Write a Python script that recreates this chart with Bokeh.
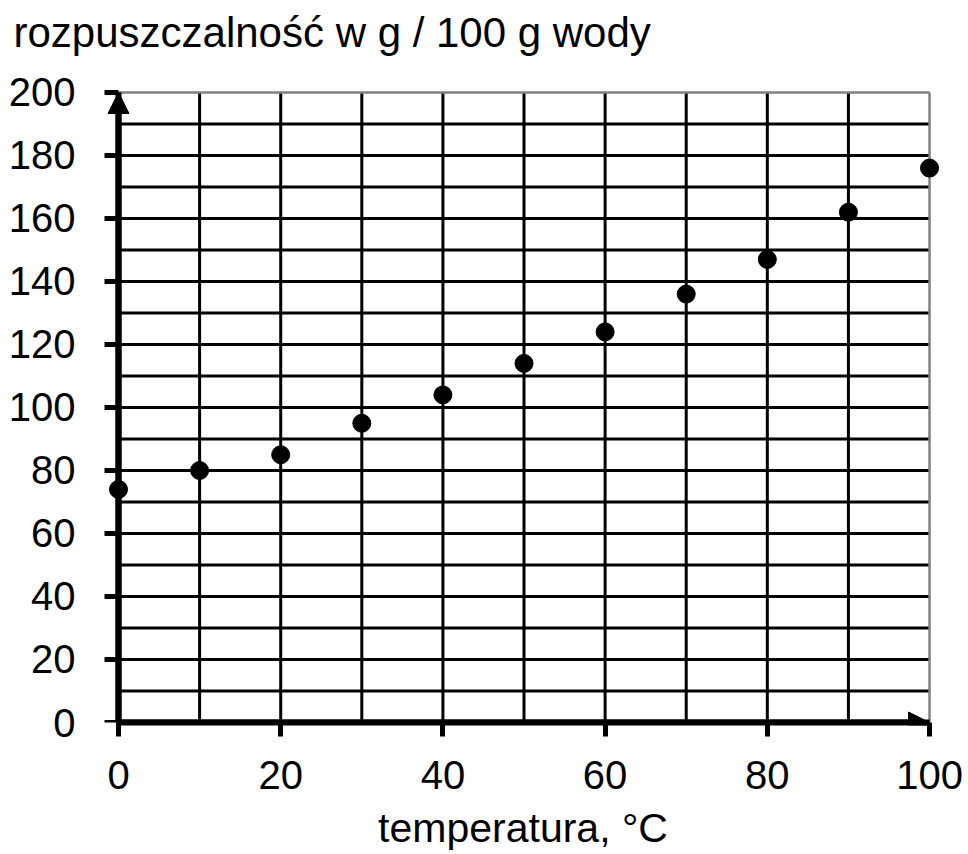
from bokeh.plotting import figure
from bokeh.models import FixedTicker, Arrow, NormalHead, Range1d, ColumnDataSource, LinearAxis
from bokeh.embed import file_html
from bokeh.resources import INLINE

temperature = [0, 10, 20, 30, 40, 50, 60, 70, 80, 90, 100]
solubility = [74, 80, 85, 95, 104, 114, 124, 136, 147, 162, 176]
x_ticks = [0, 20, 40, 60, 80, 100]
y_ticks = [0, 20, 40, 60, 80, 100, 120, 140, 160, 180, 200]
x_grid = [10, 20, 30, 40, 50, 60, 70, 80, 90]
y_grid = [10, 20, 30, 40, 50, 60, 70, 80, 90, 100, 110, 120, 130, 140, 150, 160, 170, 180, 190]
title_text = "rozpuszczalność w g / 100 g wody"
x_label = "temperatura, °C"

FONT = "Liberation Sans"
X0, X1 = x_ticks[0], x_ticks[-1]
Y0, Y1 = y_ticks[0], y_ticks[-1]

p = figure(width=968, height=854, output_backend="svg", toolbar_location=None,
           x_range=Range1d(-1.85, 101.6), y_range=Range1d(0, 209.52),
           min_border_left=103, min_border_right=26, min_border_top=62, min_border_bottom=132,
           title=title_text)

p.title.text_font = FONT
p.title.text_font_size = "42px"
p.title.text_font_style = "normal"
p.title.text_color = "black"
p.title.align = "left"
p.title.offset = -90
p.title.standoff = 13

p.outline_line_color = None
p.background_fill_color = "white"
p.border_fill_color = "white"
p.xgrid.visible = False
p.ygrid.visible = False

# grid lines
p.segment(x0=x_grid, y0=[Y0] * len(x_grid), x1=x_grid, y1=[Y1] * len(x_grid),
          line_color="black", line_width=3)
p.segment(x0=[X0] * len(y_grid), y0=y_grid, x1=[X1] * len(y_grid), y1=y_grid,
          line_color="black", line_width=3)
# grey border at the top and right
p.segment(x0=[X0, X1], y0=[Y1, Y0], x1=[X1, X1], y1=[Y1, Y1],
          line_color="#808080", line_width=2.5)

# x axis (at the frame bottom, y = 0)
p.xaxis.ticker = FixedTicker(ticks=x_ticks)
p.xaxis.bounds = (X0, X1)
p.xaxis.axis_line_color = "black"
p.xaxis.axis_line_width = 6
p.xaxis.major_tick_line_color = "black"
p.xaxis.major_tick_line_width = 5
p.xaxis.major_tick_in = 0
p.xaxis.major_tick_out = 14
p.xaxis.minor_tick_line_color = None
p.xaxis.major_label_text_font = FONT
p.xaxis.major_label_text_font_size = "40px"
p.xaxis.major_label_text_color = "black"
p.xaxis.major_label_standoff = 24
p.xaxis.axis_label = x_label
p.xaxis.axis_label_text_font = FONT
p.xaxis.axis_label_text_font_size = "41px"
p.xaxis.axis_label_text_font_style = "normal"
p.xaxis.axis_label_text_color = "black"
p.xaxis.axis_label_standoff = 13

# y axis labels (frame edge)
p.yaxis.ticker = FixedTicker(ticks=y_ticks)
p.yaxis.axis_line_color = None
p.yaxis.major_tick_line_color = None
p.yaxis.minor_tick_line_color = None
p.yaxis.major_tick_in = 0
p.yaxis.major_tick_out = 0
p.yaxis.major_label_text_font = FONT
p.yaxis.major_label_text_font_size = "40px"
p.yaxis.major_label_text_color = "black"
p.yaxis.major_label_standoff = 28

# y axis line and ticks at x = 0
yline = LinearAxis(ticker=FixedTicker(ticks=y_ticks), fixed_location=X0, bounds=(Y0, Y1),
                   axis_line_color="black", axis_line_width=6,
                   major_tick_line_color="black", major_tick_line_width=5,
                   major_tick_in=14, major_tick_out=0, minor_tick_line_color=None,
                   major_label_text_font_size="1px", major_label_text_color=None,
                   major_label_standoff=0)
p.add_layout(yline, "right")

# axis arrows
p.add_layout(Arrow(x_start=X0, y_start=Y0, x_end=X0, y_end=Y1, line_color="black", line_width=6,
                   end=NormalHead(size=21, fill_color="black", line_color="black", line_width=1)))
p.add_layout(Arrow(x_start=X0, y_start=Y0, x_end=X1, y_end=Y0, line_color="black", line_width=6,
                   end=NormalHead(size=21, fill_color="black", line_color="black", line_width=1)))

src = ColumnDataSource(dict(x=temperature, y=solubility))
p.scatter("x", "y", source=src, size=18, fill_color="black", line_color="black")

open("out.html", "w").write(file_html(p, INLINE))
